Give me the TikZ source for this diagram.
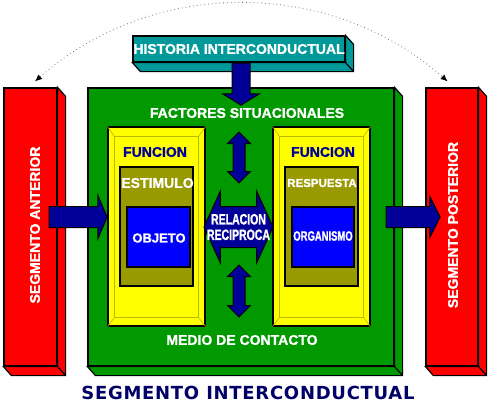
\documentclass[tikz,border=0pt]{standalone}
\usepackage{fontspec}
\setmainfont{Liberation Sans}[BoldFeatures={FakeBold=1.2}]
\newfontfamily\estrecha{Liberation Sans}[FakeStretch=0.7, BoldFeatures={FakeBold=1.2}]
\newfontfamily\titulo{DejaVu Sans}[LetterSpace=4]
\usetikzlibrary{shapes.arrows, arrows.meta}
\definecolor{verdeazul}{RGB}{0,153,153}
\definecolor{verde}{RGB}{0,153,0}
\definecolor{rojo}{RGB}{255,0,0}
\definecolor{amarillo}{RGB}{255,255,0}
\definecolor{oliva}{RGB}{153,153,0}
\definecolor{azul}{RGB}{0,0,255}
\definecolor{marino}{RGB}{0,0,153}
\definecolor{titazul}{RGB}{0,0,102}
\definecolor{bisel}{RGB}{185,185,0}

\begin{document}
\begin{tikzpicture}[x=1pt, y=-1pt, line width=1.2pt, >=latex]
        \tikzstyle{block} = [rectangle, draw=black, inner sep=0pt]
        \tikzstyle{texto} = [text=white, font=\bfseries\fontsize{14}{16}\selectfont, inner sep=0pt]
        \tikzstyle{flecha} = [single arrow, draw=black, fill=marino, line width=1pt, inner xsep=0pt, single arrow head indent=0pt]
        \tikzstyle{flechadoble} = [double arrow, draw=black, fill=marino, line width=1pt, inner xsep=0pt, double arrow head indent=0pt]
        \useasboundingbox (0,0) rectangle (490,405);

        % Bloques
        \node[block, fill=verde, minimum width=306pt, minimum height=278pt] (verde) at (241,227) {};
        \node[block, fill=rojo, minimum width=53pt, minimum height=278pt] (anterior) at (30.5,227) {};
        \node[block, fill=rojo, minimum width=52pt, minimum height=278pt] (posterior) at (452,227) {};
        \node[block, fill=verdeazul, minimum width=212pt, minimum height=26pt] (historia) at (239,49) {};

        % Caras 3D
        \draw[fill=verde] (verde.north east) -- ([shift={(8,9)}]verde.north east) -- ([shift={(8,9)}]verde.south east) -- ([shift={(8,9)}]verde.south west) -- (verde.south west) -- (verde.south east) -- cycle (verde.south east) -- ([shift={(8,9)}]verde.south east);
        \draw[fill=rojo] (anterior.north east) -- ([shift={(8,9)}]anterior.north east) -- ([shift={(8,9)}]anterior.south east) -- ([shift={(8,9)}]anterior.south west) -- (anterior.south west) -- (anterior.south east) -- cycle (anterior.south east) -- ([shift={(8,9)}]anterior.south east);
        \draw[fill=rojo] (posterior.north east) -- ([shift={(8,9)}]posterior.north east) -- ([shift={(8,9)}]posterior.south east) -- ([shift={(8,9)}]posterior.south west) -- (posterior.south west) -- (posterior.south east) -- cycle (posterior.south east) -- ([shift={(8,9)}]posterior.south east);
        \draw[fill=verdeazul] (historia.north east) -- ([shift={(8,9)}]historia.north east) -- ([shift={(8,9)}]historia.south east) -- ([shift={(8,9)}]historia.south west) -- (historia.south west) -- (historia.south east) -- cycle (historia.south east) -- ([shift={(8,9)}]historia.south east);

        % Funciones
        \node[block, fill=amarillo, minimum width=97pt, minimum height=199pt] (funcE) at (156.5,226.5) {};
        \node[block, fill=amarillo, minimum width=97pt, minimum height=199pt] (funcR) at (321.5,226.5) {};
        \draw[bisel, line width=0.6pt] ([shift={(7,10)}]funcE.north west) rectangle ([shift={(-7,-9)}]funcE.south east);
        \draw[bisel, line width=0.6pt] (funcE.north west) -- ([shift={(7,10)}]funcE.north west) (funcE.north east) -- ([shift={(-7,10)}]funcE.north east) (funcE.south west) -- ([shift={(7,-9)}]funcE.south west) (funcE.south east) -- ([shift={(-7,-9)}]funcE.south east);
        \draw[bisel, line width=0.6pt] ([shift={(7,10)}]funcR.north west) rectangle ([shift={(-7,-9)}]funcR.south east);
        \draw[bisel, line width=0.6pt] (funcR.north west) -- ([shift={(7,10)}]funcR.north west) (funcR.north east) -- ([shift={(-7,10)}]funcR.north east) (funcR.south west) -- ([shift={(7,-9)}]funcR.south west) (funcR.south east) -- ([shift={(-7,-9)}]funcR.south east);
        \node[block, fill=oliva, minimum width=73pt, minimum height=119pt] (estimulo) at (156.5,226.5) {};
        \node[block, fill=oliva, minimum width=73pt, minimum height=119pt] (respuesta) at (321.5,226.5) {};
        \node[block, fill=azul, minimum width=63pt, minimum height=60pt] (objeto) at (158.5,237) {};
        \node[block, fill=azul, minimum width=62pt, minimum height=60pt] (organismo) at (323,237) {};

        % Textos
        \node[texto] (thistoria) at (historia.center) {HISTORIA INTERCONDUCTUAL};
        \node[texto] (tfactores) at (247,113) {FACTORES SITUACIONALES};
        \node[texto] (tmedio) at (242,340) {MEDIO DE CONTACTO};
        \node[texto, rotate=90] (tanterior) at (35,225) {SEGMENTO ANTERIOR};
        \node[texto, rotate=90] (tposterior) at (453,225) {SEGMENTO POSTERIOR};
        \node[texto, text=marino, font=\fontsize{14}{16}\selectfont\fontseries{b}\selectfont] (tfuncE) at (155,152) {FUNCION};
        \node[texto, text=marino] (tfuncR) at (323,152) {FUNCION};
        \node[texto] (testimulo) at (157.5,183) {ESTIMULO};
        \node[texto, font=\bfseries\fontsize{11.5}{13}\selectfont] (trespuesta) at (322,183) {RESPUESTA};
        \node[texto, font=\bfseries\fontsize{13}{15}\selectfont] (tobjeto) at (159,238) {OBJETO};
        \node[texto, font=\estrecha\bfseries\fontsize{13.5}{15}\selectfont] (torganismo) at (323,236) {ORGANISMO};

        % Flechas
        \node[flecha, rotate=-90, anchor=tail, minimum height=42pt, minimum width=36pt, inner ysep=8.5pt, single arrow head extend=9.5pt, single arrow tip angle=117] (fhistoria) at ([xshift=2pt]historia.south) {};
        \node[flecha, anchor=tail, minimum height=58pt, minimum width=42pt, inner ysep=10pt, single arrow head extend=11pt, single arrow tip angle=134] (fanterior) at ([xshift=-9pt, yshift=10pt]anterior.east) {};
        \node[flecha, anchor=tail, minimum height=54pt, minimum width=40pt, inner ysep=10pt, single arrow head extend=10pt, single arrow tip angle=127] (fposterior) at ([xshift=-9pt, yshift=10pt]verde.east) {};
        \node[flechadoble, minimum height=69pt, minimum width=71pt, inner ysep=20pt, double arrow head extend=15.5pt, double arrow tip angle=131] (relacion) at (238.5,227) {};
        \node[flechadoble, rotate=90, minimum height=51pt, minimum width=22pt, inner ysep=5.5pt, double arrow head extend=5.5pt, double arrow tip angle=90] (farriba) at (239,157.5) {};
        \node[flechadoble, rotate=90, minimum height=52pt, minimum width=22pt, inner ysep=5.5pt, double arrow head extend=5.5pt, double arrow tip angle=90] (fabajo) at (239,291) {};
        \node[texto, align=center, font=\estrecha\bfseries\fontsize{15}{15.5}\selectfont] (trelacion) at (relacion.center) {RELACION\\RECIPROCA};

        % Arco punteado
        \draw[black!55, line width=0.8pt, dash pattern=on 0.8pt off 3pt, {Latex[length=7pt, width=6pt, black]}-{Latex[length=7pt, width=6pt, black]}] ([xshift=4.5pt, yshift=6pt]anterior.north) arc[start angle=228.6, end angle=311.4, radius=312];

        \node[text=titazul, font=\titulo\bfseries\fontsize{18}{20}\selectfont, inner sep=0pt] (segmento) at (248,393) {SEGMENTO INTERCONDUCTUAL};
    \end{tikzpicture}
\end{document}
